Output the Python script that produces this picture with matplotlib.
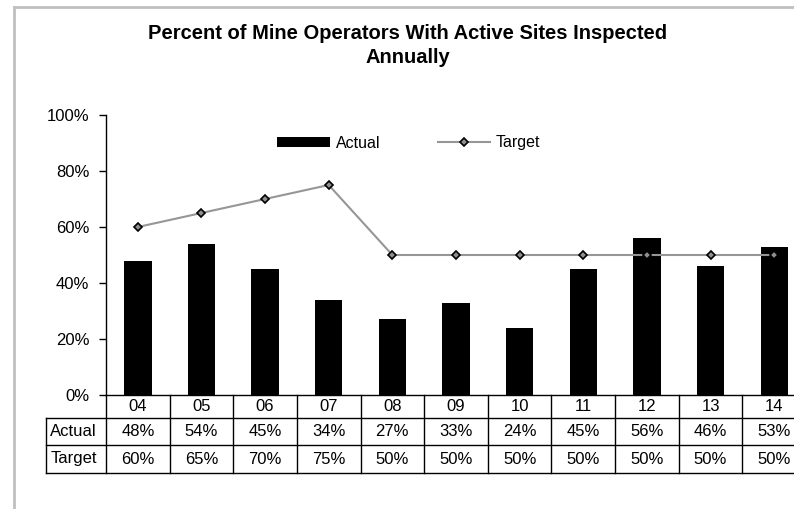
# Percent of mine operators with active sites inspected annually

import numpy as np
import matplotlib.pyplot as plt
from matplotlib.lines import Line2D

years = ['04', '05', '06', '07', '08', '09', '10', '11', '12', '13', '14']
actual = [48, 54, 45, 34, 27, 33, 24, 45, 56, 46, 53]
target = [60, 65, 70, 75, 50, 50, 50, 50, 50, 50, 50]
row_labels = ['Actual', 'Target']
y_ticks = [0, 20, 40, 60, 80, 100]

plt.rcParams['font.family'] = ['Liberation Sans', 'DejaVu Sans']
W, H = 794, 509
fig = plt.figure(figsize=(W / 100, H / 100), dpi=100)

# axes in pixel terms: y-axis at x=106, plot runs past the right edge
left, right, top, bottom = 106, 806, 115, 395
ax = fig.add_axes([left / W, 1 - bottom / H, (right - left) / W, (bottom - top) / H])

x = np.arange(len(years))
bars = ax.bar(x, actual, width=0.43, color='black', label='Actual', zorder=2)
line, = ax.plot(x, target, color='#969696', lw=1.5, marker='D', markersize=4.5,
                markerfacecolor='#909090', markeredgecolor='black', markeredgewidth=1.2,
                label='Target', zorder=3)

ax.set_xlim(-0.5, len(years) - 0.5)
ax.set_ylim(0, 100)
ax.set_yticks(y_ticks)
ax.set_yticklabels([f'{v}%' for v in y_ticks], fontsize=12)
ax.tick_params(axis='y', direction='out', length=5, width=1, pad=7)
ax.set_xticks([])
for s in ['top', 'right']:
    ax.spines[s].set_visible(False)
ax.spines['left'].set_linewidth(1)
ax.spines['bottom'].set_linewidth(1)
ax.patch.set_alpha(0)

# data table below the axis
tr = ax.get_xaxis_transform()
ph = bottom - top
y_hdr = -23 / ph
y_act = -50 / ph
y_tgt = -78 / ph
x_lab = -0.5 - 60 / 63.6
lkw = dict(color='black', lw=1, transform=tr, clip_on=False)
for xb in np.arange(-0.5, len(years)):
    ax.plot([xb, xb], [0, y_tgt], **lkw)
ax.plot([x_lab, x_lab], [y_hdr, y_tgt], **lkw)
for yy in [y_hdr, y_act, y_tgt]:
    ax.plot([x_lab, len(years)], [yy, yy], **lkw)

for i, yr in enumerate(years):
    ax.text(i, y_hdr / 2, yr, ha='center', va='center', fontsize=12, transform=tr)
    ax.text(i, (y_hdr + y_act) / 2, f'{actual[i]}%', ha='center', va='center',
            fontsize=12, transform=tr)
    ax.text(i, (y_act + y_tgt) / 2, f'{target[i]}%', ha='center', va='center',
            fontsize=12, transform=tr)
ax.text(x_lab + 0.07, (y_hdr + y_act) / 2, row_labels[0], ha='left', va='center',
        fontsize=12, transform=tr)
ax.text(x_lab + 0.07, (y_act + y_tgt) / 2, row_labels[1], ha='left', va='center',
        fontsize=12, transform=tr)

ax.legend([bars, line], ['Actual', 'Target'], loc='center',
          bbox_to_anchor=(409 / W, 1 - 143 / H),
          bbox_transform=fig.transFigure, frameon=False, ncol=2,
          handlelength=3.3, handleheight=0.55, columnspacing=3.6,
          handletextpad=0.35, fontsize=11.5)

fig.text(408 / W, 1 - 45.5 / H, 'Percent of Mine Operators With Active Sites Inspected\nAnnually',
         ha='center', va='center', fontsize=14.5, fontweight='bold', linespacing=1.3)

# outer chart frame (gray)
fig.add_artist(Line2D([14 / W, 1], [1 - 7 / H, 1 - 7 / H], color='#c0c0c0', lw=2))
fig.add_artist(Line2D([14 / W, 14 / W], [0, 1 - 7 / H], color='#c0c0c0', lw=2))

fig.savefig('out.png', dpi=100)
